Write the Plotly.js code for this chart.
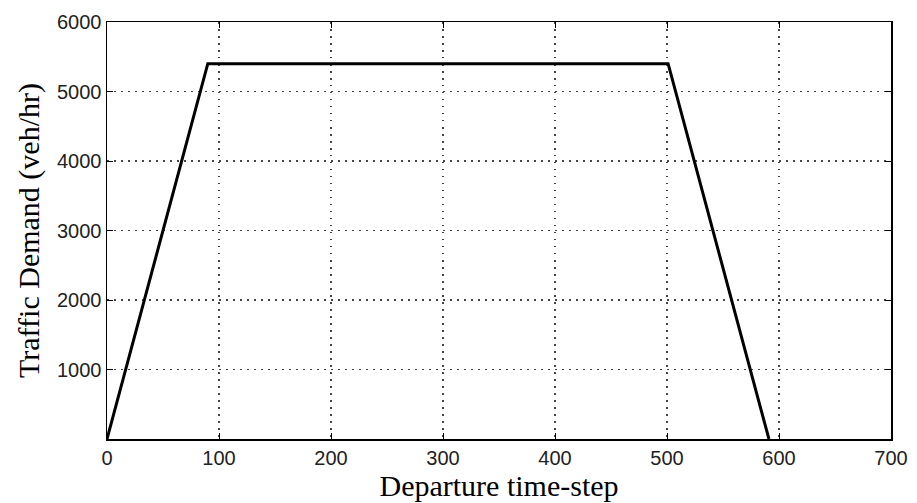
<!DOCTYPE html>
<html>
<head>
<meta charset="utf-8">
<script src="https://cdn.plot.ly/plotly-3.0.1.min.js"></script>
<style>
  html, body { margin: 0; padding: 0; background: #fff; }
  #chart { width: 917px; height: 503px; }
</style>
</head>
<body>
<div id="chart"></div>
<script>
// Demand profile: linear ramp up, plateau, linear ramp down
const timeStep = [0, 90, 501, 591];
const demand = [0, 5400, 5400, 0];

const xTicks = [0, 100, 200, 300, 400, 500, 600, 700];
const yTicks = [1000, 2000, 3000, 4000, 5000, 6000];

const trace = {
  x: timeStep,
  y: demand,
  type: 'scatter',
  mode: 'lines',
  line: { color: '#000', width: 3 },
  hoverinfo: 'skip'
};

const axisCommon = {
  showline: true,
  linecolor: '#000',
  linewidth: 1.5,
  mirror: 'ticks',
  ticks: 'inside',
  ticklen: 6,
  tickcolor: '#000',
  showgrid: true,
  gridcolor: '#444',
  griddash: '1.5px,5.5px',
  gridwidth: 1.2,
  zeroline: false,
  tickfont: { family: 'Liberation Sans, Arial, sans-serif', size: 20, color: '#222' }
};

const titleFont = { family: 'Liberation Serif, Times New Roman, serif', size: 30, color: '#000' };

const layout = {
  width: 917,
  height: 503,
  margin: { l: 107, r: 26, t: 22, b: 64 },
  paper_bgcolor: '#fff',
  plot_bgcolor: '#fff',
  showlegend: false,
  xaxis: Object.assign({}, axisCommon, {
    range: [0, 700],
    tickvals: xTicks,
    ticktext: xTicks.map(String),
    title: { text: 'Departure time-step', font: titleFont, standoff: 0 }
  }),
  yaxis: Object.assign({}, axisCommon, {
    range: [0, 6000],
    tickvals: yTicks,
    ticktext: yTicks.map(String),
    title: { text: 'Traffic Demand (veh/hr)', font: titleFont, standoff: 8 }
  })
};

Plotly.newPlot('chart', [trace], layout, { staticPlot: true, displayModeBar: false });
</script>
</body>
</html>
